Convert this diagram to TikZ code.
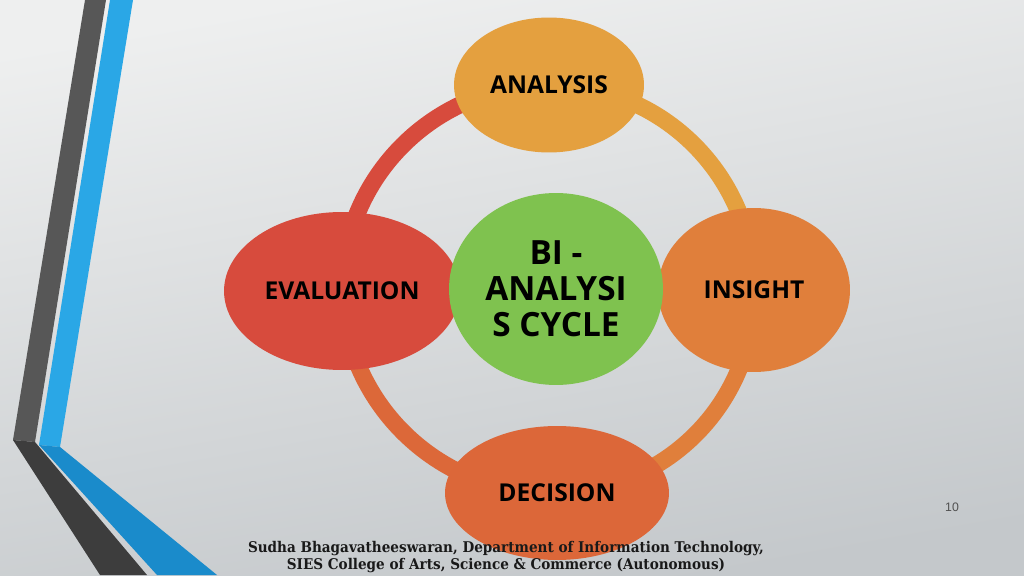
\documentclass[tikz,border=0pt]{standalone}
\usepackage{fontspec}
\setmainfont{Open Sans}
\newfontfamily\footfont[FakeStretch=0.92]{DejaVu Serif}
\newfontfamily\pagefont{Liberation Sans}
\usepackage{tikz}
\usetikzlibrary{shapes.geometric,positioning}

\pgfdeclarelayer{back}
\pgfdeclarelayer{ring}
\pgfsetlayers{back,ring,main}

\definecolor{bgTop}{HTML}{EEEFEF}
\definecolor{bgMid}{HTML}{EAEBEB}
\definecolor{bgLow}{HTML}{C4C8CB}
\definecolor{darkUp}{HTML}{575757}
\definecolor{darkLow}{HTML}{3D3D3D}
\definecolor{blueUp}{HTML}{2AA7E6}
\definecolor{blueLow}{HTML}{1A8BCB}
\definecolor{cAnalysis}{HTML}{E4A03F}
\definecolor{cInsight}{HTML}{E07F3B}
\definecolor{cDecision}{HTML}{DC6739}
\definecolor{cEvaluation}{HTML}{D74B3D}
\definecolor{cCenter}{HTML}{7FC24F}
\definecolor{pageGrey}{HTML}{505050}

\tikzset{
  phase/.style={ellipse, draw=none, inner sep=0pt, text=black,
    font=\bfseries\fontsize{14}{17}\selectfont},
  ringarc/.style={line width=0.34cm, bend left=45},
  footer/.style={align=center, text=black!90,
    font=\footfont\bfseries\fontsize{8.4}{10.2}\selectfont}
}

\begin{document}
\begin{tikzpicture}[x=0.02cm,y=0.02cm]
\useasboundingbox (0,0) rectangle (1024,575);

% slide background and side stripes
\begin{pgfonlayer}{back}
  \shade[top color=bgTop, middle color=bgMid, bottom color=bgLow, shading angle=10] (0,0) rectangle (1024,575);
  \fill[darkUp] (85,575) -- (106,575) -- (35,133) -- (13,135) -- cycle;
  \fill[darkLow] (13,135) -- (35,133) -- (147,0) -- (100,0) -- cycle;
  \fill[blueUp] (110,575) -- (133,575) -- (60,128) -- (39,130) -- cycle;
  \fill[blueLow] (39,130) -- (60,128) -- (217,0) -- (157,0) -- cycle;
\end{pgfonlayer}

% cycle phases
\node[phase, fill=cAnalysis, minimum width=3.8cm, minimum height=2.7cm] (analysis) at (549,490) {ANALYSIS};
\node[phase, fill=cInsight, minimum width=3.84cm, minimum height=3.28cm] (insight) at (754,285) {INSIGHT};
\node[phase, fill=cDecision, minimum width=4.48cm, minimum height=2.68cm] (decision) at (557,82) {DECISION};
\node[phase, fill=cEvaluation, minimum width=4.72cm, minimum height=3.16cm] (evaluation) at (342,284) {EVALUATION};
\node[phase, fill=cCenter, minimum width=4.28cm, minimum height=3.84cm, align=center,
  font=\bfseries\fontsize{19}{20.6}\selectfont] (bi) at (556,286) {BI -\\ANALYSI\\S CYCLE};

% ring
\begin{pgfonlayer}{ring}
  \draw[ringarc, cAnalysis] (analysis.center) to (insight.center);
  \draw[ringarc, cInsight] (insight.center) to (decision.center);
  \draw[ringarc, cDecision!95!cInsight] (decision.center) to (evaluation.center);
  \draw[ringarc, cEvaluation] (evaluation.center) to (analysis.center);
\end{pgfonlayer}

\node[text=pageGrey, font=\pagefont\fontsize{7}{8}\selectfont] (pagenum) at (952,68) {10};
\node[footer] (credit) at (506,18) {Sudha Bhagavatheeswaran, Department of Information Technology,\\SIES College of Arts, Science \& Commerce (Autonomous)};
\end{tikzpicture}
\end{document}
